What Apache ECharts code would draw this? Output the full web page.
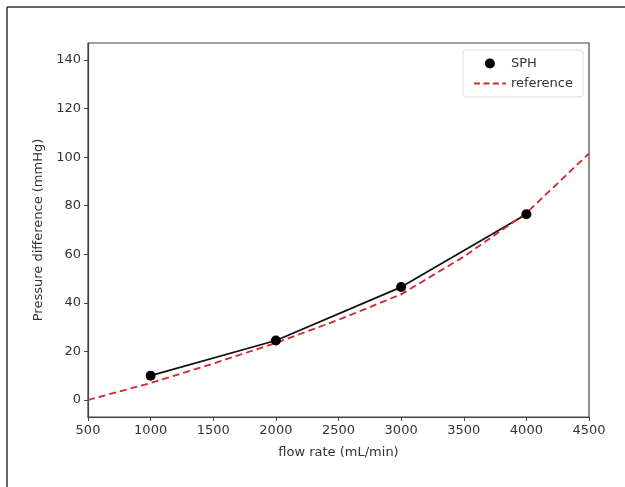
<!DOCTYPE html>
<html><head><meta charset="utf-8">
<script src="https://cdn.jsdelivr.net/npm/echarts@6/dist/echarts.min.js"></script>
<style>html,body{margin:0;padding:0;background:#fff}#c{width:625px;height:487px}</style>
</head><body><div id="c"></div>
<script>
const sphFlow = [1000, 2000, 3000, 4000];
const sphPressure = [10, 24.5, 46.5, 76.5];
const refFlow = [500, 1000, 1500, 2000, 2500, 3000, 3500, 4000, 4500];
const refPressure = [0, 7, 15, 23.5, 33, 43.5, 59, 77, 101.5];
const yTicks = [0, 20, 40, 60, 80, 100, 120, 140];
const xTicks = [500, 1000, 1500, 2000, 2500, 3000, 3500, 4000, 4500];

const font = 'DejaVu Sans';
const chart = echarts.init(document.getElementById('c'), null, {renderer: 'canvas'});
chart.setOption({
  animation: false,
  backgroundColor: '#fff',
  grid: {left: 88, right: 36, top: 43, bottom: 70, show: true, borderColor: '#444', borderWidth: 1.2, backgroundColor: '#fff'},
  xAxis: {
    type: 'value', min: 500, max: 4500, interval: 500,
    name: 'flow rate (mL/min)', nameLocation: 'middle', nameGap: 29,
    nameTextStyle: {fontFamily: font, fontSize: 13, color: '#333'},
    axisLine: {show: true, onZero: false, lineStyle: {color: '#444', width: 1.2}},
    axisTick: {show: true, length: 4, lineStyle: {color: '#444'}, customValues: xTicks},
    axisLabel: {fontFamily: font, fontSize: 13, color: '#333', margin: 7, customValues: xTicks, formatter: v => String(v)},
    splitLine: {show: false}
  },
  yAxis: {
    type: 'value', min: -7, max: 147,
    name: 'Pressure difference (mmHg)', nameLocation: 'middle', nameGap: 38,
    nameTextStyle: {fontFamily: font, fontSize: 13, color: '#333'},
    axisLine: {show: true, onZero: false, lineStyle: {color: '#444', width: 1.2}},
    axisTick: {show: true, length: 4, lineStyle: {color: '#444'}, customValues: yTicks},
    axisLabel: {fontFamily: font, fontSize: 13, color: '#333', margin: 7, customValues: yTicks, formatter: v => String(v)},
    splitLine: {show: false}
  },
  legend: {
    orient: 'vertical', left: 463, top: 50, padding: [7, 10, 7, 10], itemGap: 7,
    itemWidth: 32, itemHeight: 10,
    backgroundColor: '#fff', borderColor: '#ddd', borderWidth: 1, borderRadius: 3,
    textStyle: {fontFamily: font, fontSize: 13, color: '#333'},
    data: [
      {name: 'SPH', icon: 'circle', itemStyle: {color: '#000', opacity: 1}},
      {name: 'reference', itemStyle: {opacity: 0}, lineStyle: {color: '#d62728', width: 1.8, type: [6, 3.5]}}
    ]
  },
  graphic: [
    {type: 'line', shape: {x1: 7, y1: 7, x2: 625, y2: 7}, style: {stroke: '#333', lineWidth: 1.5}, z: 10},
    {type: 'line', shape: {x1: 7, y1: 7, x2: 7, y2: 487}, style: {stroke: '#333', lineWidth: 1.5}, z: 10}
  ],
  series: [
    {
      name: 'reference', type: 'line', symbol: 'none',
      data: refFlow.map((x, i) => [x, refPressure[i]]),
      lineStyle: {color: '#d62728', width: 1.8, type: [7, 4]},
      itemStyle: {color: '#d62728'}, z: 3
    },
    {
      name: 'SPHline', type: 'line', symbol: 'none',
      data: sphFlow.map((x, i) => [x, sphPressure[i]]),
      lineStyle: {color: '#111', width: 1.8}, z: 2
    },
    {
      name: 'SPH', type: 'scatter', symbol: 'circle', symbolSize: 10,
      data: sphFlow.map((x, i) => [x, sphPressure[i]]),
      itemStyle: {color: '#000', opacity: 1}, z: 4
    }
  ]
});
</script></body></html>
